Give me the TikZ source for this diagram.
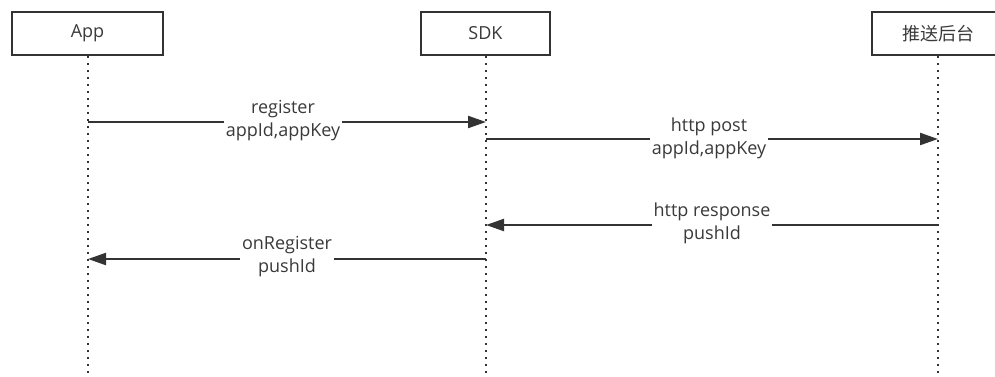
\documentclass[tikz,border=0pt]{standalone}
\usepackage{fontspec}
\setmainfont{Open Sans}
\newfontfamily\cjk{Noto Sans CJK SC}
\usetikzlibrary{arrows.meta}
\definecolor{ink}{HTML}{333333}
\definecolor{txt}{HTML}{3A3A3A}
\tikzset{
  actor/.style={draw=ink, line width=2pt, fill=white, minimum height=43pt, inner sep=0pt, text=txt, font=\fontsize{18}{20}\selectfont},
  lifeline/.style={draw=ink, line width=2pt, dash pattern=on 2pt off 5pt},
  msg/.style={draw=ink, line width=2.2pt, -{Triangle[length=18pt,width=12pt]}},
  lbl/.style={fill=white, align=center, text=txt, inner sep=2pt, font=\fontsize{18}{23}\selectfont}
}
\begin{document}
\begin{tikzpicture}[x=1pt,y=-1pt]
\useasboundingbox (0,0) rectangle (995,376);
\begin{scope}
\clip (0,0) rectangle (995,376);
% lifelines
\coordinate (appB) at (88,376);
\coordinate (sdkB) at (486,376);
\coordinate (srvB) at (938,376);
\draw[lifeline] (88,56) -- (appB);
\draw[lifeline] (486,56) -- (sdkB);
\draw[lifeline] (938,56) -- (srvB);
% actors
\node[actor, minimum width=151pt] (app) at (87.5,33.5) {App};
\node[actor, minimum width=129pt] (sdk) at (485.5,33.5) {SDK};
\node[actor, minimum width=132pt] (srv) at (938,33.5) {\cjk 推送后台};
% message anchors
\coordinate (m1s) at (88,122);   \coordinate (m1e) at (486,122);
\coordinate (m2s) at (486,139);  \coordinate (m2e) at (938,139);
\coordinate (m3s) at (938,225);  \coordinate (m3e) at (486,225);
\coordinate (m4s) at (486,259);  \coordinate (m4e) at (88,259);
\draw[msg] (m1s) -- node[lbl, xshift=-4pt, yshift=1pt] (l1) {register\\appId,appKey} (m1e);
\draw[msg] (m2s) -- node[lbl, xshift=-3pt, yshift=1pt] (l2) {http post\\appId,appKey} (m2e);
\draw[msg] (m3s) -- node[lbl, yshift=2pt, inner ysep=0pt] (l3) {http response\\pushId} (m3e);
\draw[msg] (m4s) -- node[lbl, yshift=2pt, inner ysep=0pt] (l4) {onRegister\\pushId} (m4e);
\end{scope}
\end{tikzpicture}
\end{document}
